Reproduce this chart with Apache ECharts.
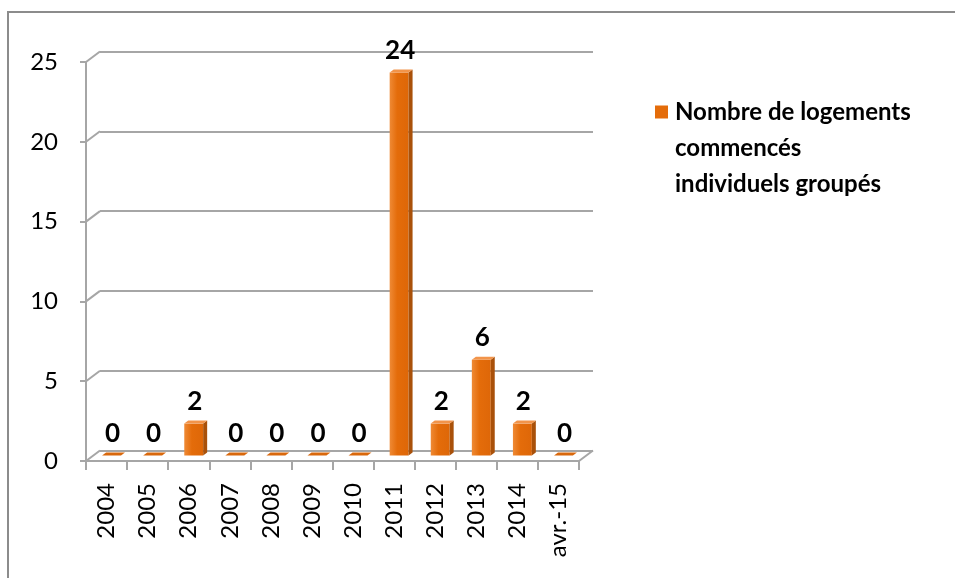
<!DOCTYPE html>
<html>
<head>
<meta charset="utf-8">
<script src="https://cdn.jsdelivr.net/npm/echarts@6/dist/echarts.min.js"></script>
<style>
html,body{margin:0;padding:0;background:#fff;}
#chart{width:955px;height:578px;}
</style>
</head>
<body>
<div id="chart"></div>
<script>
const categories = ['2004','2005','2006','2007','2008','2009','2010','2011','2012','2013','2014','avr.-15'];
const values = [0, 0, 2, 0, 0, 0, 0, 24, 2, 6, 2, 0];
const yTicks = [0, 5, 10, 15, 20, 25];
const seriesName = 'Nombre de logements commencés individuels groupés';
const legendLines = ['Nombre de logements', 'commencés', 'individuels groupés'];

const DX = 14, DY = 10.5;         // depth of back wall
const BAR_OX = 5, BAR_OY = -5.5;  // bar placement in depth
const SIDE_X = 4, SIDE_Y = 3;     // bar side depth
const GRID_COLOR = '#a6a6a6';
const FONT = 'Lato';

const chart = echarts.init(document.getElementById('chart'));
chart.setOption({
  animation: false,
  backgroundColor: '#ffffff',
  graphic: [{
    type: 'rect', silent: true, z: -10,
    shape: {x: 8, y: 12, width: 1200, height: 1200},
    style: {fill: 'none', stroke: '#8c8c8c', lineWidth: 2}
  }],
  grid: [
    {left: 86, top: 62, width: 493, height: 399},
    {left: 86 + DX, top: 62 - DY, width: 493, height: 399}
  ],
  legend: {
    data: [{name: seriesName, icon: 'rect'}],
    left: 650, top: 17,
    itemWidth: 13, itemHeight: 13,
    selectedMode: false,
    formatter: () => '\n\n' + legendLines.join('\n'),
    textStyle: {fontFamily: FONT, fontWeight: 'bold', fontSize: 24, lineHeight: 36, color: '#000', padding: [0, 0, 0, 2]}
  },
  xAxis: [{
    type: 'category', gridIndex: 0, data: categories,
    axisLine: {show: true, lineStyle: {color: GRID_COLOR, width: 2}},
    axisTick: {show: true, interval: 0, length: 9, lineStyle: {color: GRID_COLOR, width: 2}},
    axisLabel: {interval: 0, rotate: 90, margin: 22, fontFamily: FONT, fontSize: 24, color: '#000'},
    splitLine: {show: false}
  }, {
    type: 'category', gridIndex: 1, data: categories, show: false
  }],
  yAxis: [{
    type: 'value', gridIndex: 0, min: 0, max: 25, interval: 5,
    axisLine: {show: true, lineStyle: {color: GRID_COLOR, width: 2}},
    axisTick: {show: true, length: 6, lineStyle: {color: GRID_COLOR, width: 2}},
    axisLabel: {margin: 28, fontFamily: FONT, fontSize: 24, color: '#000'},
    splitLine: {show: false}
  }, {
    type: 'value', gridIndex: 1, min: 0, max: 25, interval: 5,
    axisLine: {show: false}, axisTick: {show: false}, axisLabel: {show: false},
    splitLine: {show: true, lineStyle: {color: GRID_COLOR, width: 2}}
  }],
  series: [{
    type: 'custom', name: 'depth', xAxisIndex: 0, yAxisIndex: 0, silent: true,
    data: yTicks.map(v => [0, v]),
    renderItem: function (params, api) {
      const c = api.coord([0, api.value(1)]);
      const band = api.size([1, 0])[0];
      const x0 = c[0] - band / 2;
      const children = [{
        type: 'line', shape: {x1: x0, y1: c[1], x2: x0 + DX, y2: c[1] - DY},
        style: {stroke: GRID_COLOR, lineWidth: 2}
      }];
      if (api.value(1) === 0) {
        const x1 = x0 + band * categories.length;
        children.push({
          type: 'line', shape: {x1: x1, y1: c[1], x2: x1 + DX, y2: c[1] - DY},
          style: {stroke: GRID_COLOR, lineWidth: 2}
        });
      }
      return {type: 'group', children: children};
    }
  }, {
    type: 'custom', name: seriesName, xAxisIndex: 0, yAxisIndex: 0,
    itemStyle: {color: '#e46c0a'},
    data: values.map((v, i) => [i, v]),
    renderItem: function (params, api) {
      const i = api.value(0), v = api.value(1);
      const base = api.coord([i, 0]);
      const top = api.coord([i, v]);
      const bw = api.size([1, 0])[0] * 0.46;
      const xl = base[0] - bw / 2 + BAR_OX, xr = base[0] + bw / 2 + BAR_OX;
      const yb = base[1] + BAR_OY, yt = top[1] + BAR_OY;
      return {
        type: 'group',
        children: [{
          type: 'rect', shape: {x: xl, y: yt, width: bw, height: yb - yt},
          style: {fill: new echarts.graphic.LinearGradient(0, 0, 1, 0, [
            {offset: 0, color: '#ef8a35'}, {offset: 0.4, color: '#e46c0a'}, {offset: 1, color: '#de6708'}])}
        }, {
          type: 'polygon', shape: {points: [[xr, yt], [xr + SIDE_X, yt - SIDE_Y], [xr + SIDE_X, yb - SIDE_Y], [xr, yb]]},
          style: {fill: '#a9510a'}
        }, {
          type: 'polygon', shape: {points: [[xl, yt], [xl + SIDE_X, yt - SIDE_Y], [xr + SIDE_X, yt - SIDE_Y], [xr, yt]]},
          style: {fill: v === 0 ? '#d9680c' : '#f2944a'}
        }, {
          type: 'text',
          style: {text: String(v), x: (xl + xr) / 2 + 1, y: yt - 9, align: 'center', verticalAlign: 'bottom',
                  fontFamily: FONT, fontWeight: 'bold', fontSize: 26, fill: '#000'}
        }]
      };
    }
  }]
});
</script>
</body>
</html>
